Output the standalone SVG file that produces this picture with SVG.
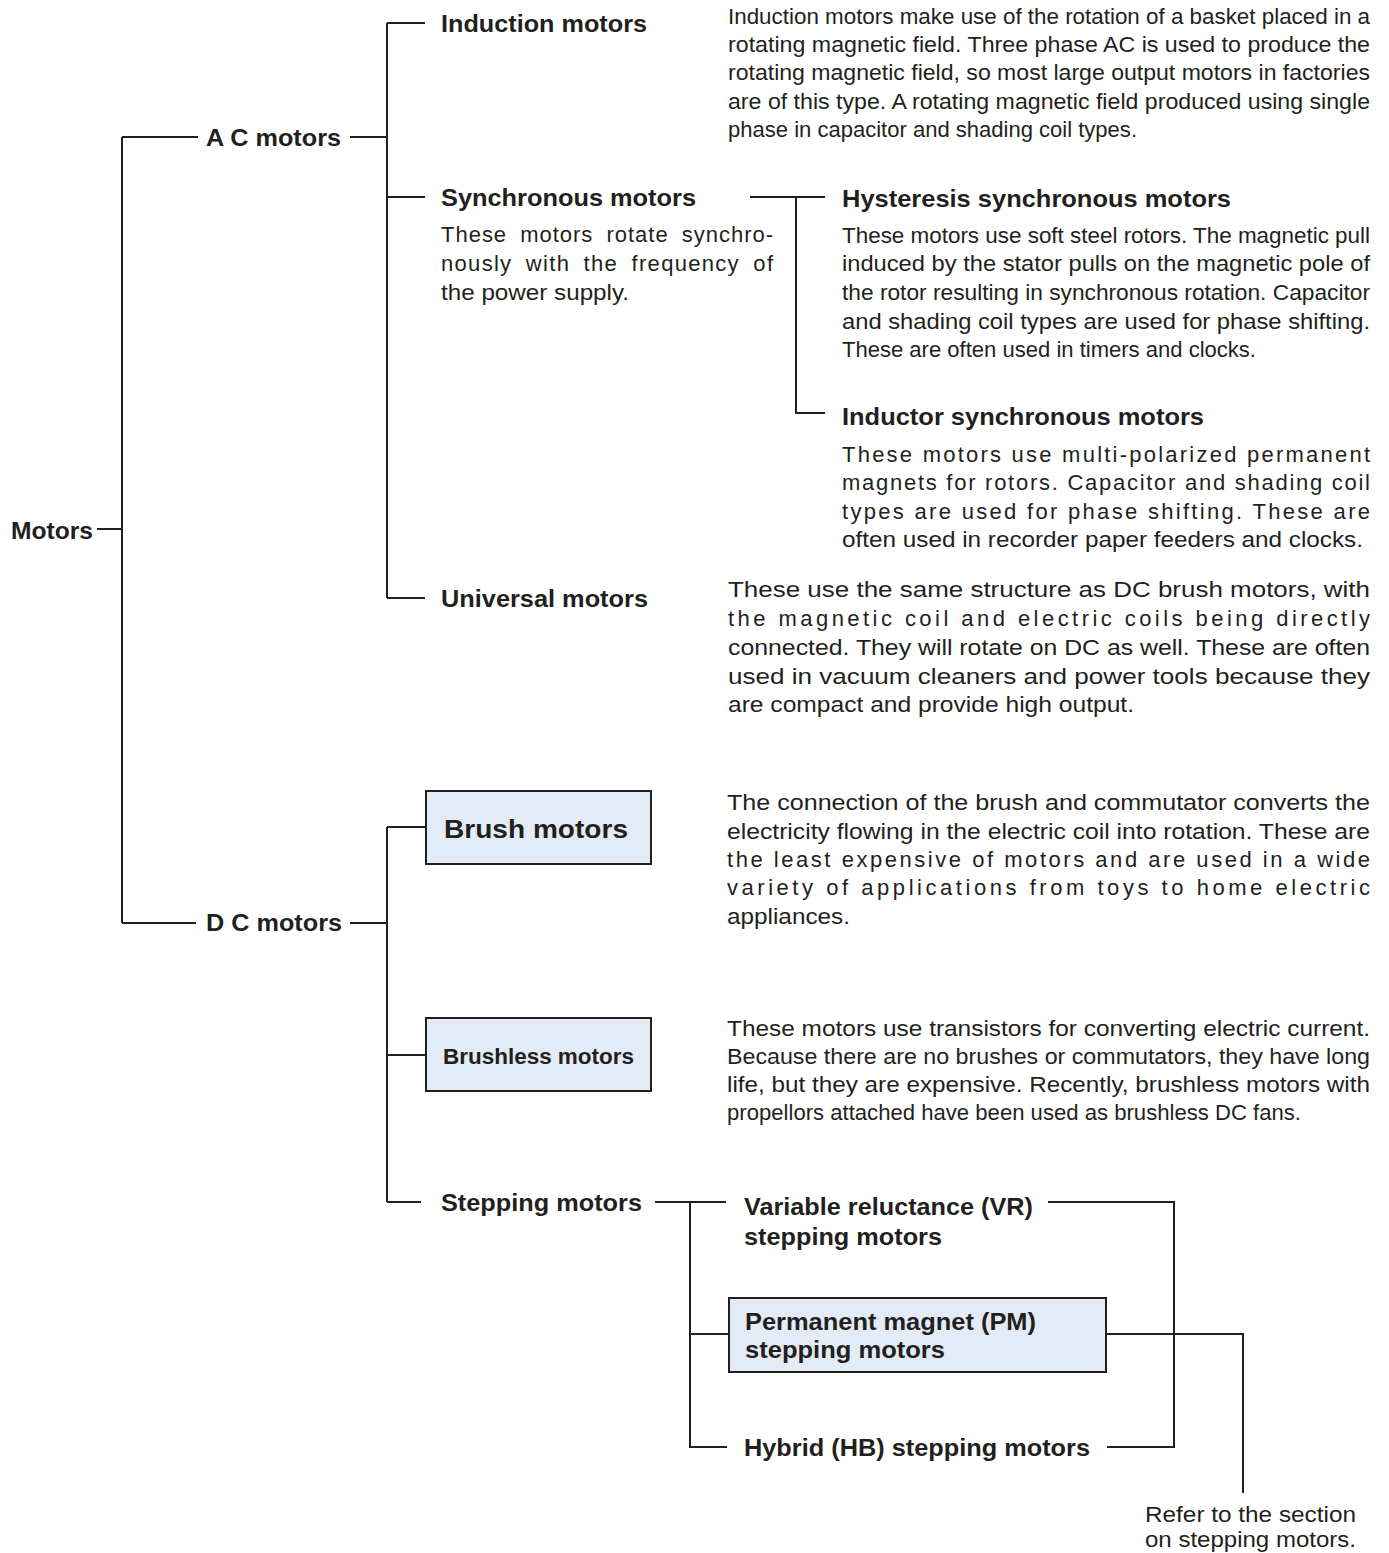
<svg xmlns="http://www.w3.org/2000/svg" width="1389" height="1553" viewBox="0 0 1389 1553">
<style>
text{font-family:"Liberation Sans",Arial,Helvetica,sans-serif;fill:#231f20}
.t{font-size:24px;font-weight:bold}
.d{font-size:22px}
.ln{stroke:#231f20;stroke-width:2;fill:none}
.box{fill:#e3ebf6;stroke:#231f20;stroke-width:2}
</style>
<rect width="1389" height="1553" fill="#ffffff"/>
<g id="connectors" class="ln">
<path d="M97 529H122M122 137V923M122 137H198M350 137H387M387 23V598M387 23H425M387 197H425M387 598H425"/>
<path d="M750 197H825M796 197V413H825"/>
<path d="M122 923H196M350 923H387M387 827V1202M387 827H426M387 1055H426M387 1202H421"/>
<path d="M655 1202H726M690 1202V1447H727M690 1334H729"/>
<path d="M1048 1202H1174V1447H1107"/>
<path d="M1106 1334H1243V1493"/>
</g>
<g id="motors"><text class="t" x="11" y="539" textLength="82" lengthAdjust="spacingAndGlyphs">Motors</text></g>
<g id="ac-motors"><text class="t" x="206" y="146" textLength="135" lengthAdjust="spacingAndGlyphs">A C motors</text></g>
<g id="induction-motors">
<text class="t" x="441" y="32" textLength="206" lengthAdjust="spacingAndGlyphs">Induction motors</text>
<text class="d" x="728" y="24" textLength="642" lengthAdjust="spacingAndGlyphs">Induction motors make use of the rotation of a basket placed in a</text>
<text class="d" x="728" y="52" textLength="642" lengthAdjust="spacingAndGlyphs">rotating magnetic field. Three phase AC is used to produce the</text>
<text class="d" x="728" y="80" textLength="642" lengthAdjust="spacingAndGlyphs">rotating magnetic field, so most large output motors in factories</text>
<text class="d" x="728" y="109" textLength="642" lengthAdjust="spacingAndGlyphs">are of this type. A rotating magnetic field produced using single</text>
<text class="d" x="728" y="137" textLength="409" lengthAdjust="spacingAndGlyphs">phase in capacitor and shading coil types.</text>
</g>
<g id="synchronous-motors">
<text class="t" x="441" y="206" textLength="255" lengthAdjust="spacingAndGlyphs">Synchronous motors</text>
<text class="d" x="441" y="242" word-spacing="6" textLength="332" lengthAdjust="spacing">These motors rotate synchro-</text>
<text class="d" x="441" y="271" word-spacing="6" textLength="332" lengthAdjust="spacing">nously with the frequency of</text>
<text class="d" x="441" y="300" textLength="188" lengthAdjust="spacingAndGlyphs">the power supply.</text>
</g>
<g id="hysteresis-synchronous-motors">
<text class="t" x="842" y="207" textLength="389" lengthAdjust="spacingAndGlyphs">Hysteresis synchronous motors</text>
<text class="d" x="842" y="243" textLength="528" lengthAdjust="spacingAndGlyphs">These motors use soft steel rotors. The magnetic pull</text>
<text class="d" x="842" y="271" textLength="528" lengthAdjust="spacingAndGlyphs">induced by the stator pulls on the magnetic pole of</text>
<text class="d" x="842" y="300" textLength="528" lengthAdjust="spacingAndGlyphs">the rotor resulting in synchronous rotation. Capacitor</text>
<text class="d" x="842" y="329" textLength="528" lengthAdjust="spacingAndGlyphs">and shading coil types are used for phase shifting.</text>
<text class="d" x="842" y="357" textLength="414" lengthAdjust="spacingAndGlyphs">These are often used in timers and clocks.</text>
</g>
<g id="inductor-synchronous-motors">
<text class="t" x="842" y="425" textLength="362" lengthAdjust="spacingAndGlyphs">Inductor synchronous motors</text>
<text class="d" x="842" y="462" textLength="528" lengthAdjust="spacing">These motors use multi-polarized permanent</text>
<text class="d" x="842" y="490" textLength="528" lengthAdjust="spacing">magnets for rotors. Capacitor and shading coil</text>
<text class="d" x="842" y="519" textLength="528" lengthAdjust="spacing">types are used for phase shifting. These are</text>
<text class="d" x="842" y="547" textLength="521" lengthAdjust="spacingAndGlyphs">often used in recorder paper feeders and clocks.</text>
</g>
<g id="universal-motors">
<text class="t" x="441" y="607" textLength="207" lengthAdjust="spacingAndGlyphs">Universal motors</text>
<text class="d" x="728" y="597" textLength="642" lengthAdjust="spacingAndGlyphs">These use the same structure as DC brush motors, with</text>
<text class="d" x="728" y="626" textLength="642" lengthAdjust="spacing">the magnetic coil and electric coils being directly</text>
<text class="d" x="728" y="655" textLength="642" lengthAdjust="spacingAndGlyphs">connected. They will rotate on DC as well. These are often</text>
<text class="d" x="728" y="684" textLength="642" lengthAdjust="spacingAndGlyphs">used in vacuum cleaners and power tools because they</text>
<text class="d" x="728" y="712" textLength="406" lengthAdjust="spacingAndGlyphs">are compact and provide high output.</text>
</g>
<g id="dc-motors"><text class="t" x="206" y="931" textLength="136" lengthAdjust="spacingAndGlyphs">D C motors</text></g>
<g id="brush-motors">
<rect class="box" x="426" y="791" width="225" height="73"/>
<text class="t" x="444" y="838" style="font-size:26px" textLength="184" lengthAdjust="spacingAndGlyphs">Brush motors</text>
<text class="d" x="727" y="810" textLength="643" lengthAdjust="spacingAndGlyphs">The connection of the brush and commutator converts the</text>
<text class="d" x="727" y="839" textLength="643" lengthAdjust="spacingAndGlyphs">electricity flowing in the electric coil into rotation. These are</text>
<text class="d" x="727" y="867" textLength="643" lengthAdjust="spacing">the least expensive of motors and are used in a wide</text>
<text class="d" x="727" y="895" textLength="643" lengthAdjust="spacing">variety of applications from toys to home electric</text>
<text class="d" x="727" y="924" textLength="123" lengthAdjust="spacingAndGlyphs">appliances.</text>
</g>
<g id="brushless-motors">
<rect class="box" x="426" y="1018" width="225" height="73"/>
<text class="t" x="443" y="1064" style="font-size:22px" textLength="191" lengthAdjust="spacingAndGlyphs">Brushless motors</text>
<text class="d" x="727" y="1036" textLength="643" lengthAdjust="spacingAndGlyphs">These motors use transistors for converting electric current.</text>
<text class="d" x="727" y="1064" textLength="643" lengthAdjust="spacingAndGlyphs">Because there are no brushes or commutators, they have long</text>
<text class="d" x="727" y="1092" textLength="643" lengthAdjust="spacingAndGlyphs">life, but they are expensive. Recently, brushless motors with</text>
<text class="d" x="727" y="1120" textLength="574" lengthAdjust="spacingAndGlyphs">propellors attached have been used as brushless DC fans.</text>
</g>
<g id="stepping-motors"><text class="t" x="441" y="1211" textLength="201" lengthAdjust="spacingAndGlyphs">Stepping motors</text></g>
<g id="vr-stepping-motors">
<text class="t" x="744" y="1215" textLength="289" lengthAdjust="spacingAndGlyphs">Variable reluctance (VR)</text>
<text class="t" x="744" y="1245" textLength="198" lengthAdjust="spacingAndGlyphs">stepping motors</text>
</g>
<g id="pm-stepping-motors">
<rect class="box" x="729" y="1298" width="377" height="74"/>
<text class="t" x="745" y="1330" textLength="291" lengthAdjust="spacingAndGlyphs">Permanent magnet (PM)</text>
<text class="t" x="745" y="1358" textLength="200" lengthAdjust="spacingAndGlyphs">stepping motors</text>
</g>
<g id="hb-stepping-motors"><text class="t" x="744" y="1456" textLength="346" lengthAdjust="spacingAndGlyphs">Hybrid (HB) stepping motors</text></g>
<g id="note">
<text class="d" x="1145" y="1522" textLength="211" lengthAdjust="spacingAndGlyphs">Refer to the section</text>
<text class="d" x="1145" y="1547" textLength="211" lengthAdjust="spacingAndGlyphs">on stepping motors.</text>
</g>
</svg>
